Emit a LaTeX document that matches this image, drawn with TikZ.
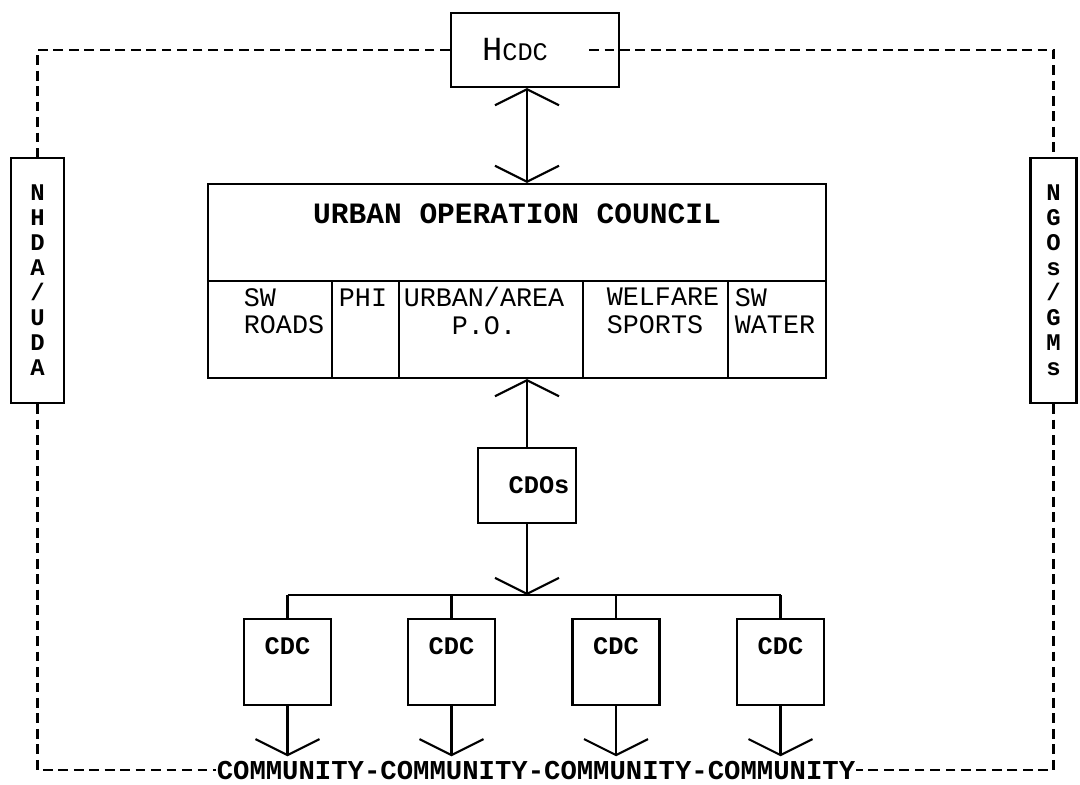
\documentclass[tikz,border=0pt]{standalone}
\usepackage{fontspec}
\usetikzlibrary{arrows.meta}
\newfontfamily\tw{Liberation Mono}
\tikzset{
	box/.style={draw,line width=1.5pt,inner sep=0pt},
	link/.style={line width=1.5pt},
	frame/.style={line width=1.5pt,dash pattern=on 7pt off 4pt},
	cell/.style={inner sep=0pt,font=\tw\fontsize{19}{19.5}\selectfont},
	cdcbox/.style={box,minimum width=2.175cm,minimum height=2.15cm,text height=10pt,text depth=20pt,
		font=\tw\bfseries\fontsize{18}{18}\selectfont},
	side/.style={box,minimum height=6.125cm,align=center,font=\tw\bfseries\fontsize{17}{17.8}\selectfont},
	vtip/.tip={Straight Barb[length=0.4cm,width=1.6cm]}
}
\begin{document}
\begin{tikzpicture}[x=0.025cm,y=-0.025cm,font=\tw]
	\useasboundingbox (0,0) rectangle (1080,784);
	% top of the chain and the two side bodies
	\node[box,minimum width=4.2cm,minimum height=1.85cm] (hcdc) at (535,50)
		{\fontsize{24}{24}\selectfont H\fontsize{18}{18}\selectfont CDC\hspace*{1cm}};
	\node[side,minimum width=1.325cm] (nhda) at (37.5,280.5) {N\\H\\D\\A\\/\\U\\D\\A};
	\node[side,minimum width=1.15cm] (ngos) at (1053.5,280.5) {N\\G\\O\\s\\/\\G\\M\\s};
	% the council with its sections
	\node[box,minimum width=15.45cm,minimum height=4.85cm] (uoc) at (517,281) {};
	\node[font=\tw\bfseries\fontsize{21}{21}\selectfont] (uoctitle) at (517,214) {URBAN OPERATION COUNCIL};
	\coordinate (split) at (0,281);
	\draw[link] (uoc.west |- split) -- (uoc.east |- split);
	\foreach \x in {332,399,583,728}
		\draw[link] (\x,281) -- (\x,378);
	\node[cell,align=left] (roads) at (284,311) {SW\\ROADS};
	\node[cell] (phi) at (363,298) {PHI};
	\node[cell,align=center] (urban) at (484,311) {URBAN/AREA\\P.O.};
	\node[cell,align=left] (welfare) at (663,311) {WELFARE\\SPORTS};
	\node[cell,align=left] (water) at (775,311) {SW\\WATER};
	% officers and the community councils
	\node[box,minimum width=2.45cm,minimum height=1.875cm,font=\tw\bfseries\fontsize{18}{18}\selectfont]
		(cdos) at (527,485.5) {\hspace*{0.6cm}CDOs};
	\foreach \x [count=\i] in {287.5,451.5,616,780.5}
		\node[cdcbox] (cdc\i) at (\x,662) {CDC};
	\node[inner sep=0pt,font=\tw\bfseries\fontsize{19.4}{19.4}\selectfont] (community) at (536,770)
		{COMMUNITY-COMMUNITY-COMMUNITY-COMMUNITY};
	% links
	\coordinate (axis) at (527,0);
	\coordinate (bus) at (527,595);
	\draw[link,{vtip}-{vtip}] (hcdc.south -| axis) -- (uoc.north -| axis);
	\draw[link,-{vtip}] (cdos.north) -- (uoc.south -| cdos.north);
	\draw[link,-{vtip}] (cdos.south) -- (bus);
	\draw[link] (cdc1.north |- bus) -- (cdc4.north |- bus);
	\foreach \i in {1,...,4} {
		\draw[link] (cdc\i.north |- bus) -- (cdc\i.north);
		\draw[link,-{vtip}] (cdc\i.south) -- ([yshift=3pt]cdc\i.south |- community.north);
	}
	% the dashed frame round everything
	\draw[frame] (hcdc.west) -| (nhda.north);
	\draw[frame] ([xshift=-0.775cm]hcdc.east) -| (ngos.north);
	\draw[frame] (nhda.south) |- (community.west);
	\draw[frame] (ngos.south) |- (community.east);
\end{tikzpicture}
\end{document}
